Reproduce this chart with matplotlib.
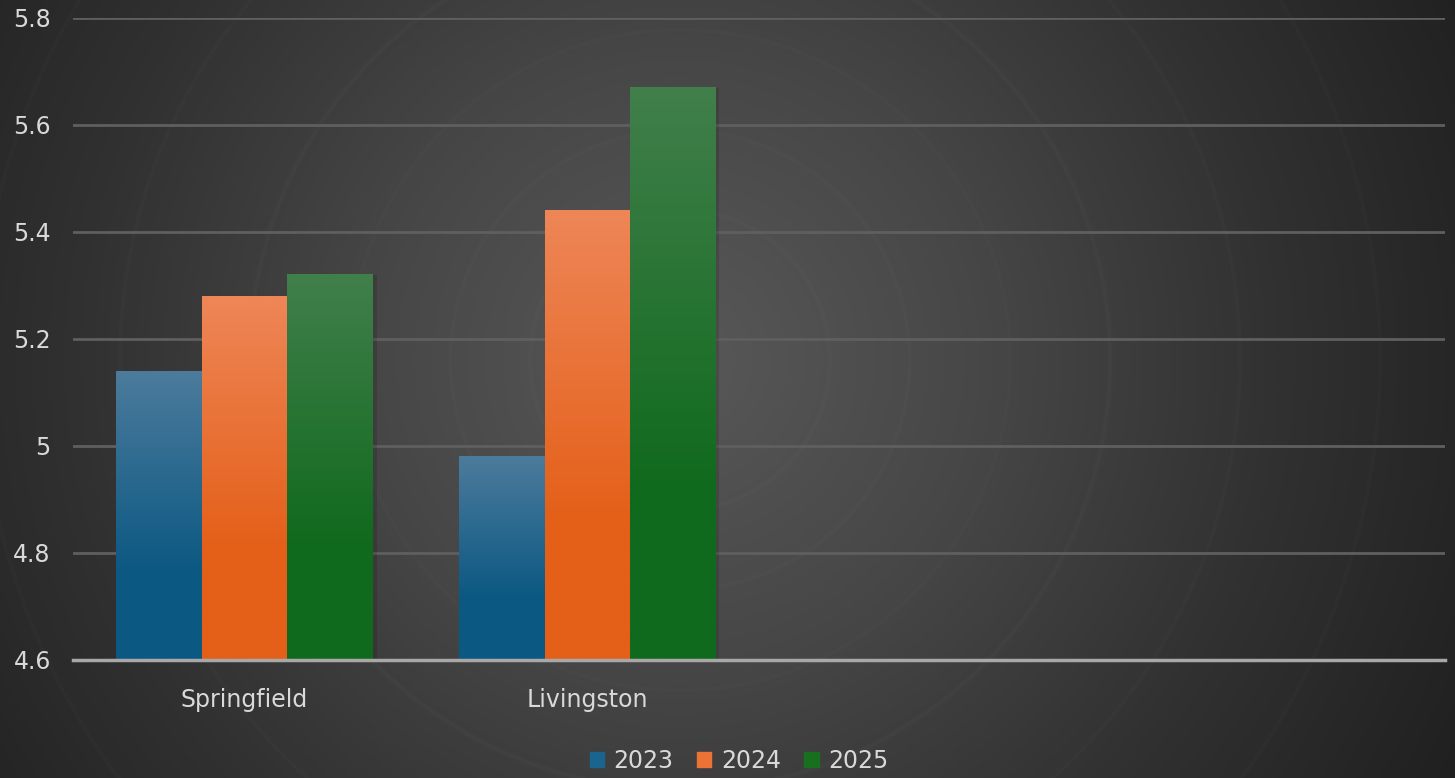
import numpy as np
import matplotlib
matplotlib.use("Agg")
import matplotlib.pyplot as plt
from matplotlib.colors import LinearSegmentedColormap
from matplotlib.patches import Patch

categories = ["Springfield", "Livingston", "", ""]
years = ["2023", "2024", "2025"]
values_2023 = [5.14, 4.98]
values_2024 = [5.28, 5.44]
values_2025 = [5.32, 5.67]
series = [values_2023, values_2024, values_2025]
yticks = [4.6, 4.8, 5.0, 5.2, 5.4, 5.6, 5.8]
ytick_labels = ["4.6", "4.8", "5", "5.2", "5.4", "5.6", "5.8"]

# (top colour, bottom colour) for each series
grad_colors = [("#4c7b9c", "#0b5882"), ("#ee8657", "#e45f18"), ("#417f4b", "#106a1d")]
legend_colors = ["#1a6590", "#ec7236", "#18701f"]

fig = plt.figure(figsize=(14.55, 7.78), dpi=100)

# radial gradient background
bg = fig.add_axes([0, 0, 1, 1], zorder=-10)
gx, gy = np.meshgrid(np.linspace(0, 1455, 600), np.linspace(0, 778, 320))
r = np.sqrt((gx - 680) ** 2 + (gy - 360) ** 2) / 900.0
bgcmap = LinearSegmentedColormap.from_list("bg", ["#585858", "#474747", "#313131", "#1f1f1f"])
bg.imshow(r, cmap=bgcmap, vmin=0, vmax=1, extent=[0, 1455, 778, 0], aspect="auto")
for rad in [150, 230, 330, 430, 560, 700]:
    circ = plt.Circle((680, 360), rad, fill=False, color="#ffffff", alpha=0.015, lw=3)
    bg.add_patch(circ)
bg.set_xlim(0, 1455)
bg.set_ylim(778, 0)
bg.axis("off")

ax = fig.add_axes([0.0502, 0.1517, 0.9428, 0.8252])
ax.patch.set_alpha(0)
ymin, ymax = 4.6, 5.8

w = 0.25
offsets = [-w, 0, w]
for s, vals in enumerate(series):
    top, bot = grad_colors[s]
    cm = LinearSegmentedColormap.from_list("g%d" % s, [(0, bot), (0.3, bot), (1, top)])
    for i, v in enumerate(vals):
        x0 = i + offsets[s] - w / 2
        grad = np.linspace(0, 1, 200).reshape(-1, 1)
        ax.imshow(grad, cmap=cm, extent=[x0, x0 + w, ymin, v], origin="lower",
                  aspect="auto", zorder=3)
        ax.add_patch(plt.Rectangle((x0 + w, ymin), 0.01, v - ymin, color="black",
                                   alpha=0.12, zorder=2, lw=0))

ax.set_xlim(-0.5, len(categories) - 0.5)
ax.set_ylim(ymin, ymax)

ax.set_yticks(yticks)
ax.set_yticklabels(ytick_labels)
ax.set_xticks(range(len(categories)))
ax.set_xticklabels(categories)
ax.tick_params(axis="both", length=0, colors="#d9d9d9", labelsize=17)
ax.tick_params(axis="y", pad=16)
ax.tick_params(axis="x", pad=20)

ax.grid(axis="y", color="#5f5f5f", lw=2, zorder=1)
ax.set_axisbelow(True)
for sp in ["top", "right", "left"]:
    ax.spines[sp].set_visible(False)
ax.spines["bottom"].set_color("#a8a8a8")
ax.spines["bottom"].set_linewidth(2.5)
ax.spines["bottom"].set_zorder(5)

handles = [Patch(color=c, label=y) for c, y in zip(legend_colors, years)]
fig.legend(handles=handles, loc="center", bbox_to_anchor=(0.508, 0.022), ncol=3,
           frameon=False, fontsize=17, labelcolor="#d9d9d9", handlelength=0.6,
           handleheight=0.6, handletextpad=0.4, columnspacing=1.0)

fig.savefig("out.png", dpi=100)
